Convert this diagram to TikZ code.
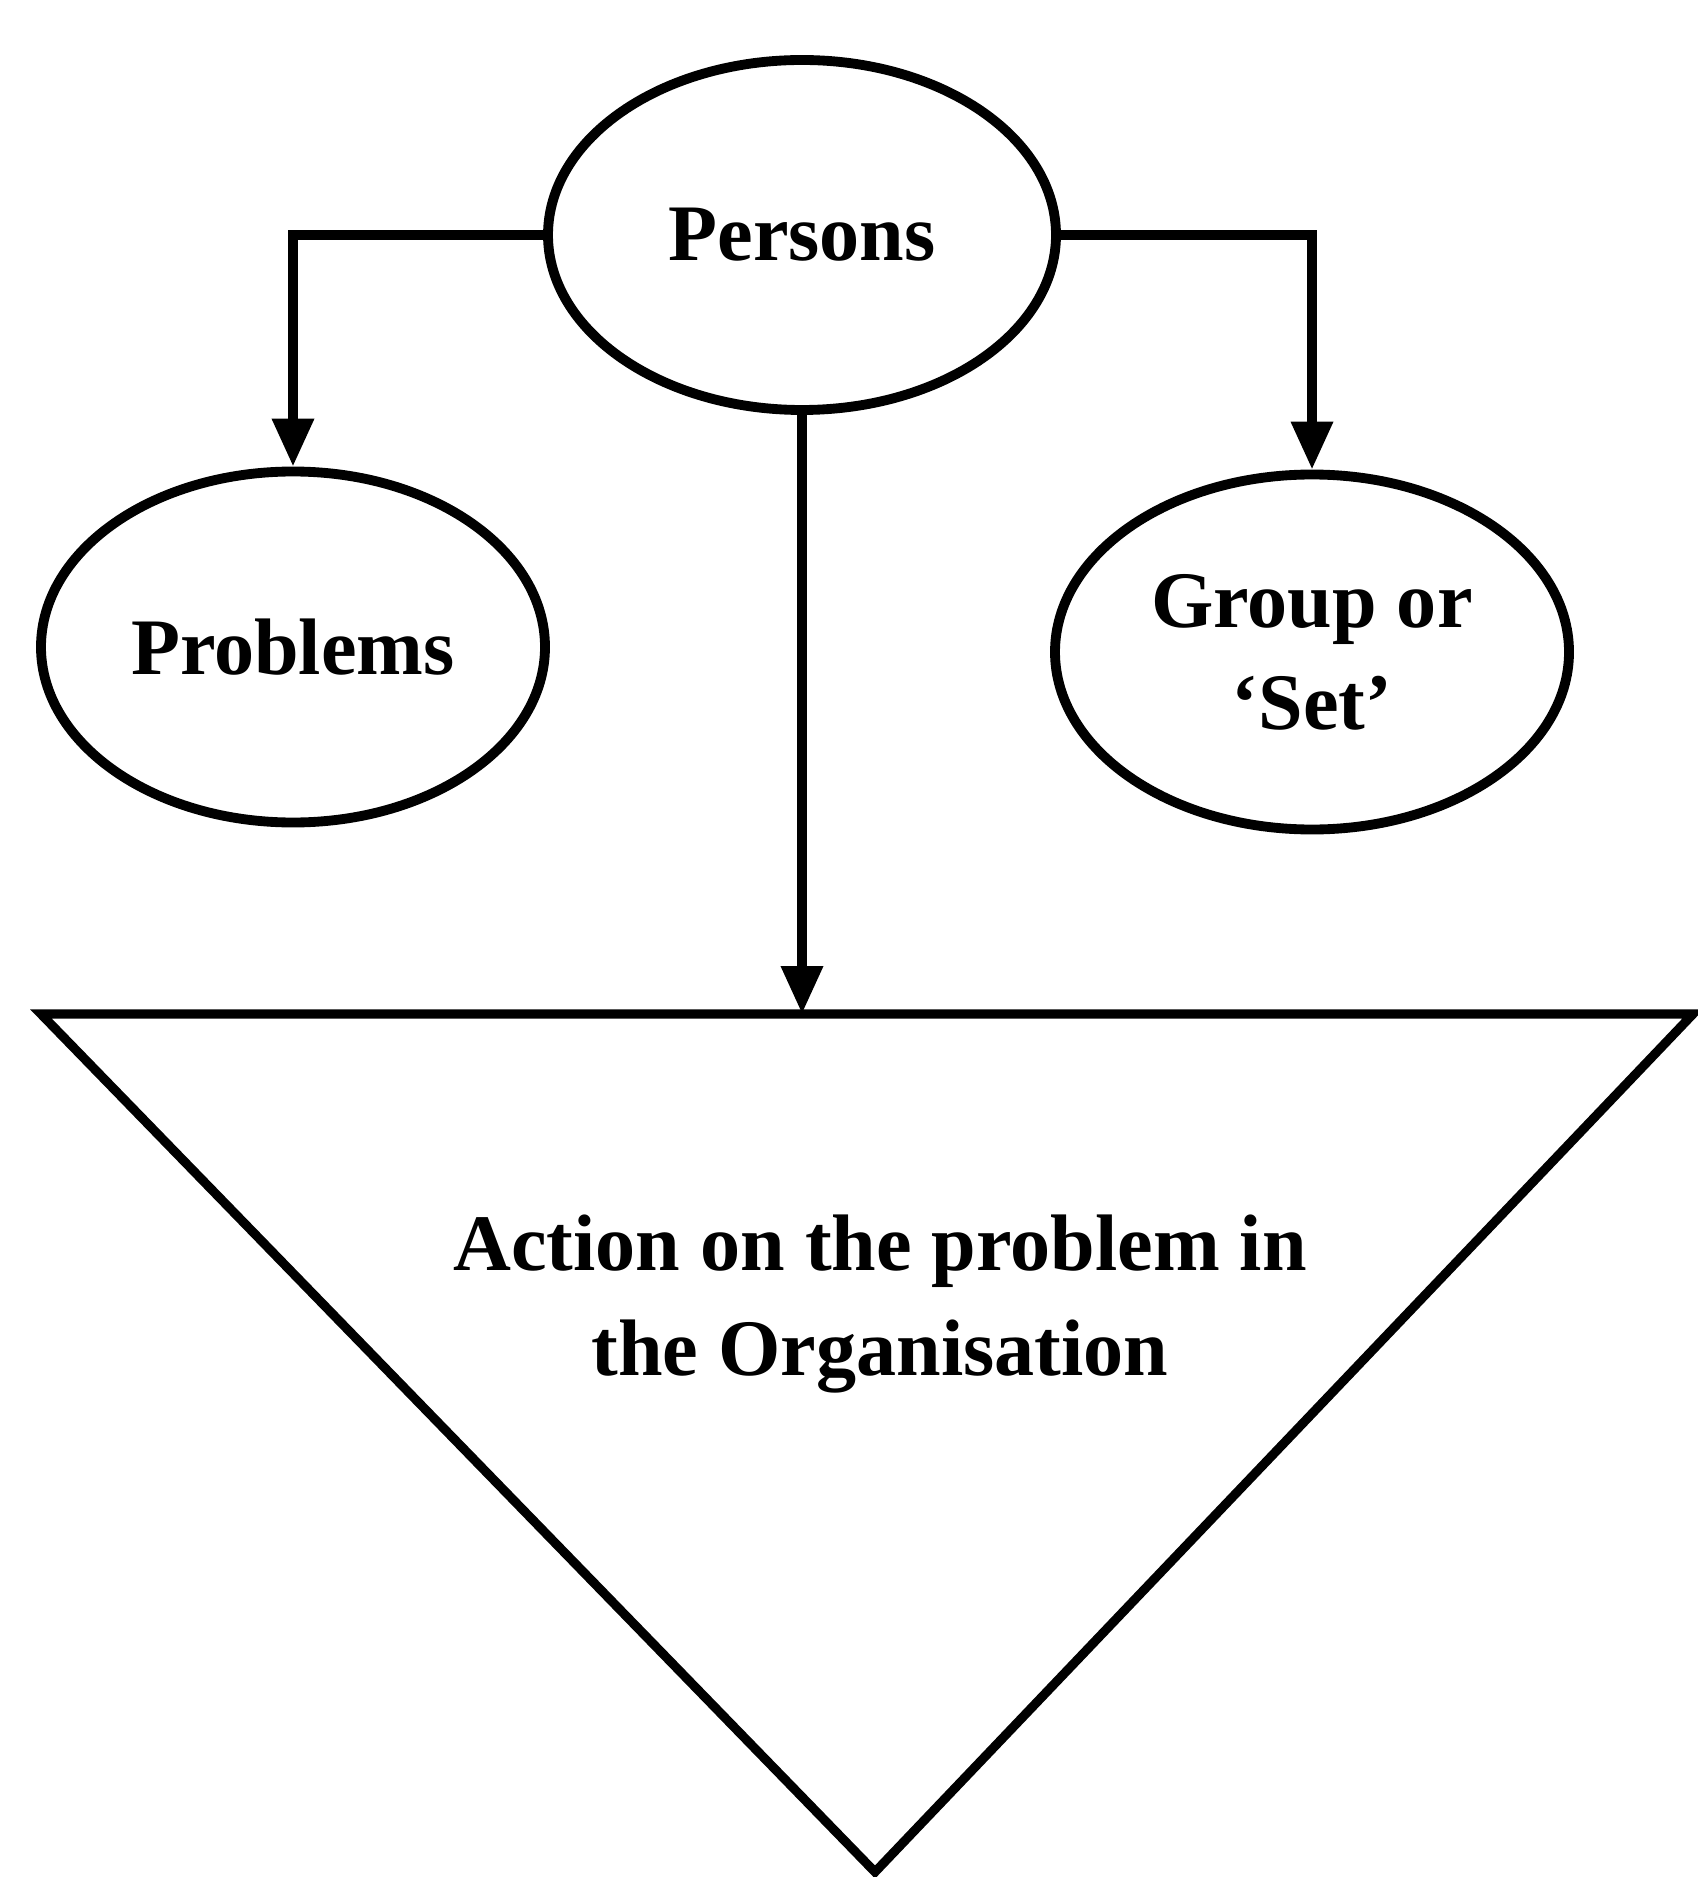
\documentclass[tikz,border=0pt]{standalone}
\usepackage{fontspec}
\setmainfont{Liberation Serif}
\usetikzlibrary{shapes.geometric,arrows.meta}

\begin{document}
\begin{tikzpicture}[
    bubble/.style={draw, ellipse, line width=2.8pt, inner sep=0pt, align=center,
                   font=\fontsize{22.8}{29}\selectfont\bfseries},
    link/.style={line width=2.8pt, -{Triangle[length=4.8mm, width=4.0mm]}},
  ]
    \useasboundingbox (0,0) rectangle (16.97,-18.77);

    % the three ellipses
    \node[bubble, minimum width=5.08cm, minimum height=3.50cm] (persons) at (8.02,-2.35) {Persons};
    \node[bubble, minimum width=5.04cm, minimum height=3.51cm] (problems) at (2.93,-6.47) {Problems};
    \node[bubble, minimum width=5.14cm, minimum height=3.55cm] (group) at (13.12,-6.52) {Group or\\`Set'};

    % funnel
    \coordinate (tl) at (0.41,-10.14);
    \coordinate (tr) at (16.93,-10.14);
    \coordinate (tip) at (8.75,-18.72);
    \coordinate (entry) at (8.02,-10.14);
    \draw[line width=2.6pt, line join=miter] (tl) -- (tr) -- (tip) -- cycle;
    \node[align=center, font=\fontsize{22.8}{30}\selectfont\bfseries] (action) at (8.80,-13.04)
        {Action on the problem in\\the Organisation};

    % arrows
    \draw[link] (persons.west) -| (problems.north);
    \draw[link] (persons.east) -| (group.north);
    \draw[link] (persons.south) -- (entry);

\end{tikzpicture}
\end{document}
